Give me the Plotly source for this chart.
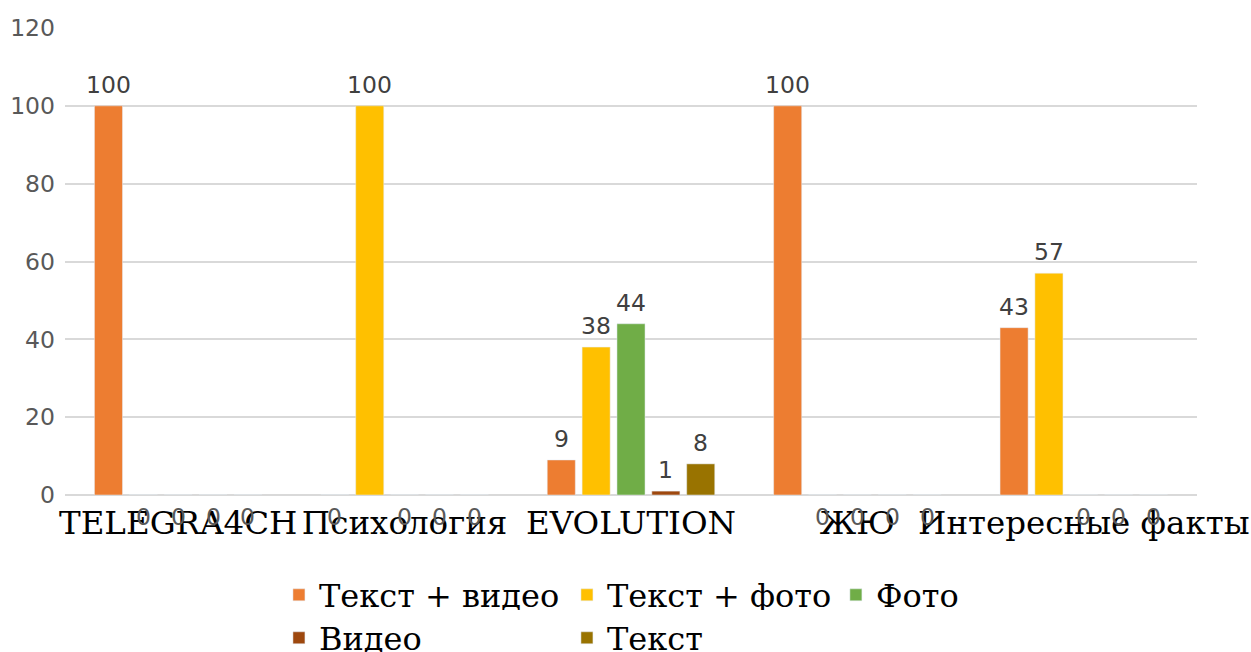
import plotly.graph_objects as go

categories = ["TELEGRA4CH", "Психология", "EVOLUTION", "ЖЮ", "Интересные факты"]
series_names = ["Текст + видео", "Текст + фото", "Фото", "Видео", "Текст"]
text_video = [100, 0, 9, 100, 43]
text_photo = [0, 100, 38, 0, 57]
photo = [0, 0, 44, 0, 0]
video = [0, 0, 1, 0, 0]
text_only = [0, 0, 8, 0, 0]
series_values = [text_video, text_photo, photo, video, text_only]
colors = ["#ED7D31", "#FFC000", "#70AD47", "#9E480E", "#997300"]
y_ticks = [0, 20, 40, 60, 80, 100, 120]

BARGAP = 0.23
BARGROUPGAP = 0.195
n = len(series_values)
pitch = (1 - BARGAP) / n

# legend placement: row 1 (series 0,1) + row 1 col 3 (series 2) + row 2 (series 3,4)
legend_ids = ["legend", "legend", "legend3", "legend2", "legend2"]

fig = go.Figure()
for i, (name, vals, col) in enumerate(zip(series_names, series_values, colors)):
    fig.add_trace(go.Bar(
        x=categories, y=vals, name=name, marker_color=col,
        legend=legend_ids[i],
        hoverinfo="x+y+name",
    ))

annotations = []
for i, vals in enumerate(series_values):
    for c, v in enumerate(vals):
        xpos = c + (i - (n - 1) / 2) * pitch
        if v == 0:
            annotations.append(dict(
                x=xpos, y=0, xref="x", yref="y", text=str(v), showarrow=False,
                yshift=-22, font=dict(family="DejaVu Sans", size=23.5, color="#595959"),
                yanchor="middle"))
        else:
            annotations.append(dict(
                x=xpos, y=v, xref="x", yref="y", text=str(v), showarrow=False,
                yshift=5, font=dict(family="DejaVu Sans", size=23.5, color="#404040"),
                yanchor="bottom"))

legend_common = dict(orientation="h", xanchor="left", yanchor="middle",
                     yref="container",
                     font=dict(family="DejaVu Serif", size=32, color="#000000"),
                     entrywidth=243, entrywidthmode="pixels", traceorder="normal")

fig.update_layout(
    width=1251, height=652,
    margin=dict(l=65, r=54, t=28, b=157),
    paper_bgcolor="white", plot_bgcolor="white",
    barmode="group", bargap=BARGAP, bargroupgap=BARGROUPGAP,
    annotations=annotations,
    showlegend=True,
    legend=dict(legend_common, x=0.189, y=0.0874),
    legend3=dict(legend_common, x=0.681, y=0.0874),
    legend2=dict(legend_common, x=0.189, y=0.0215),
)
fig.update_xaxes(
    type="category", showgrid=False, showline=False, zeroline=False, ticks="",
    tickangle=0, automargin=False, ticklabelstandoff=5,
    tickfont=dict(family="DejaVu Serif", size=32.5, color="#000000"),
)
fig.update_yaxes(
    range=[0, 120], tickvals=y_ticks, showgrid=True, gridcolor="#d9d9d9", gridwidth=1.5,
    zeroline=True, zerolinecolor="#d9d9d9", zerolinewidth=2, showline=False, ticks="",
    automargin=False,
    tickfont=dict(family="DejaVu Sans", size=23.5, color="#595959"),
    ticklabelstandoff=9,
)

fig.write_html("out.html", config={"displayModeBar": False},
               post_script="document.body.style.margin='0';")
